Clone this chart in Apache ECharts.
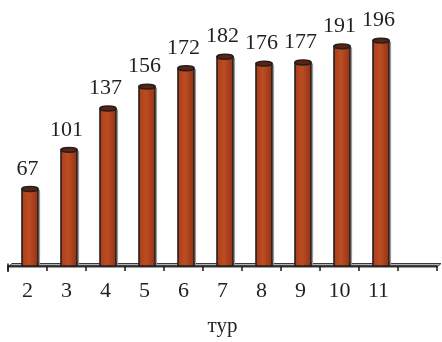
<!DOCTYPE html>
<html><head><meta charset="utf-8">
<script src="https://cdn.jsdelivr.net/npm/echarts@6/dist/echarts.min.js"></script>
<style>html,body{margin:0;padding:0;background:#fff}#c{width:442px;height:342px}</style>
</head><body><div id="c"></div>
<script>
const categories = ['2','3','4','5','6','7','8','9','10','11',''];
const values = [67,101,137,156,172,182,176,177,191,196];
const axisName = 'тур';

const FONT = '"Liberation Serif","DejaVu Serif",serif';
const chart = echarts.init(document.getElementById('c'));

function renderItem(params, api){
  const cat = api.value(0), v = api.value(1);
  const top = api.coord([cat, v]);
  const base = api.coord([cat, 0]);
  const w = 16;
  const cx = top[0] + 2.5;
  const x0 = cx - w/2;
  const h = base[1] - top[1];
  return {
    type:'group',
    children:[
      {type:'line', shape:{x1:x0+w+1.5,y1:top[1]+1,x2:x0+w+1.5,y2:base[1]-1}, style:{stroke:'#9a9a9a',lineWidth:1.2}},
      {type:'rect', shape:{x:x0,y:top[1],width:w,height:h},
        style:{fill:new echarts.graphic.LinearGradient(0,0,1,0,[
          {offset:0,color:'#a93d19'},{offset:0.45,color:'#bd4c23'},{offset:1,color:'#8f3113'}]),
          stroke:'#231f1e',lineWidth:1.6}},
      {type:'ellipse', shape:{cx:cx,cy:top[1],rx:w/2,ry:2.4},
        style:{fill:'#5e2411',stroke:'#231f1e',lineWidth:1.6}},
      {type:'text', x: top[0], y: top[1]-20,
        style:{text:String(v),font:'22px '+FONT,fill:'#231f1e',align:'center',verticalAlign:'middle'}}
    ]
  };
}

chart.setOption({
  animation:false,
  grid:{left:8,right:5,top:13,bottom:75},
  xAxis:{type:'category',data:categories,boundaryGap:true,
    axisLine:{lineStyle:{color:'#1a1a1a',width:1.5}},
    axisTick:{show:true,length:5,lineStyle:{color:'#1a1a1a',width:1.5}},
    axisLabel:{color:'#231f1e',fontFamily:FONT,fontSize:22,margin:14},
    name:axisName,nameLocation:'middle',nameGap:50,
    nameTextStyle:{color:'#231f1e',fontFamily:FONT,fontSize:21}},
  yAxis:{type:'value',min:0,max:220,show:false,splitLine:{show:false}},
  graphic:{elements:[
    {type:'polygon',z:0,shape:{points:[[8,267],[437,267],[441,263.5],[12,263.5]]},
      style:{fill:'#b4b4b4',stroke:'#3a3a3a',lineWidth:1}},
    {type:'line',z:0,shape:{x1:8,y1:263.5,x2:8,y2:272},style:{stroke:'#1a1a1a',lineWidth:1.5}}
  ]},
  series:[{type:'custom',renderItem:renderItem,z:3,
    data:values.map((v,i)=>[i,v]),
    encode:{x:0,y:1}}]
});
</script></body></html>
